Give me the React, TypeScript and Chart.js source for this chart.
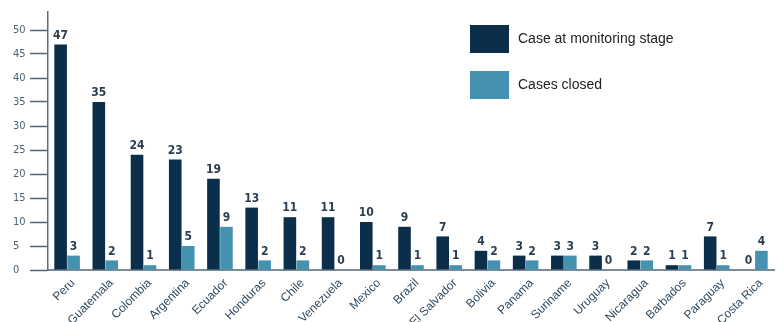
import React, { useEffect, useRef } from "react";
import { Chart, registerables } from "chart.js";

Chart.register(...registerables);

const countries = [
  "Peru", "Guatemala", "Colombia", "Argentina", "Ecuador", "Honduras", "Chile",
  "Venezuela", "Mexico", "Brazil", "El Salvador", "Bolivia", "Panama", "Suriname",
  "Uruguay", "Nicaragua", "Barbados", "Paraguay", "Costa Rica",
];
const monitoringCases = [47, 35, 24, 23, 19, 13, 11, 11, 10, 9, 7, 4, 3, 3, 3, 2, 1, 7, 0];
const closedCases = [3, 2, 1, 5, 9, 2, 2, 0, 1, 1, 1, 2, 2, 3, 0, 2, 1, 1, 4];
const yTicks = [0, 5, 10, 15, 20, 25, 30, 35, 40, 45, 50];

const seriesNames = ["Case at monitoring stage", "Cases closed"];
const DARK = "#0b2f4b";
const LIGHT = "#4591b0";
const NUM_FONT = "'Liberation Sans Narrow', 'DejaVu Sans Condensed', sans-serif";

// Writes each bar's value just above it
const valueLabels = {
  id: "valueLabels",
  afterDatasetsDraw(chart: any) {
    const ctx = chart.ctx;
    ctx.save();
    ctx.font = `bold 12px ${NUM_FONT}`;
    ctx.fillStyle = "#2b3e50";
    ctx.textAlign = "center";
    ctx.textBaseline = "bottom";
    chart.data.datasets.forEach((ds: any, i: number) => {
      const meta = chart.getDatasetMeta(i);
      meta.data.forEach((el: any, j: number) => {
        ctx.fillText(String(ds.data[j]), el.x, el.y - 3);
      });
    });
    ctx.restore();
  },
};

// Boxed legend in the upper right corner
const boxLegend = {
  id: "boxLegend",
  afterDraw(chart: any) {
    const ctx = chart.ctx;
    const x0 = chart.width - 309;
    const rows = [
      { top: 25, color: DARK, text: seriesNames[0] },
      { top: 71, color: LIGHT, text: seriesNames[1] },
    ];
    ctx.save();
    ctx.font = "14px 'Liberation Sans', Arial, sans-serif";
    ctx.textBaseline = "middle";
    ctx.textAlign = "left";
    rows.forEach((r) => {
      ctx.fillStyle = r.color;
      ctx.fillRect(x0, r.top, 39, 28);
      ctx.fillStyle = "#222222";
      ctx.fillText(r.text, x0 + 48, r.top + 14);
    });
    ctx.restore();
  },
};

export default function App() {
  const canvasRef = useRef<HTMLCanvasElement | null>(null);

  useEffect(() => {
    if (!canvasRef.current) return;
    const chart = new Chart(canvasRef.current, {
      type: "bar",
      data: {
        labels: countries,
        datasets: [
          { label: seriesNames[0], data: monitoringCases, backgroundColor: DARK },
          { label: seriesNames[1], data: closedCases, backgroundColor: LIGHT },
        ],
      },
      options: {
        animation: false,
        responsive: false,
        maintainAspectRatio: false,
        layout: { padding: { left: 13, right: 5, top: 12, bottom: 0 } },
        datasets: {
          bar: { categoryPercentage: 0.68, barPercentage: 0.97 },
        },
        plugins: {
          legend: { display: false },
          tooltip: { enabled: false },
        },
        scales: {
          x: {
            grid: { display: false, drawTicks: false },
            border: { display: true, color: "#7b8b97", width: 2 },
            ticks: {
              autoSkip: false,
              minRotation: 45,
              maxRotation: 45,
              padding: 6,
              labelOffset: 6,
              color: "#2f4a60",
              font: { family: "'Liberation Sans', Arial, sans-serif", size: 12 },
            },
            afterFit(scale: any) {
              scale.height = 52;
            },
          },
          y: {
            min: 0,
            max: 53.75,
            grid: {
              display: true,
              drawOnChartArea: false,
              drawTicks: true,
              tickLength: 18,
              tickColor: "#4d6578",
              tickWidth: 1.5,
            },
            border: { display: true, color: "#5c6c7a", width: 1.5 },
            ticks: {
              crossAlign: "far",
              color: "#4a6275",
              font: { family: NUM_FONT, size: 11 },
            },
            afterBuildTicks(scale: any) {
              scale.ticks = yTicks.map((v) => ({ value: v }));
            },
            afterFit(scale: any) {
              scale.width = 35;
            },
          },
        },
      },
      plugins: [valueLabels, boxLegend],
    });
    return () => chart.destroy();
  }, []);

  return (
    <div style={{ position: "fixed", left: 0, top: 0, width: 779, height: 322, background: "#fff" }}>
      <canvas ref={canvasRef} width={779} height={322} style={{ width: 779, height: 322 }} />
    </div>
  );
}
